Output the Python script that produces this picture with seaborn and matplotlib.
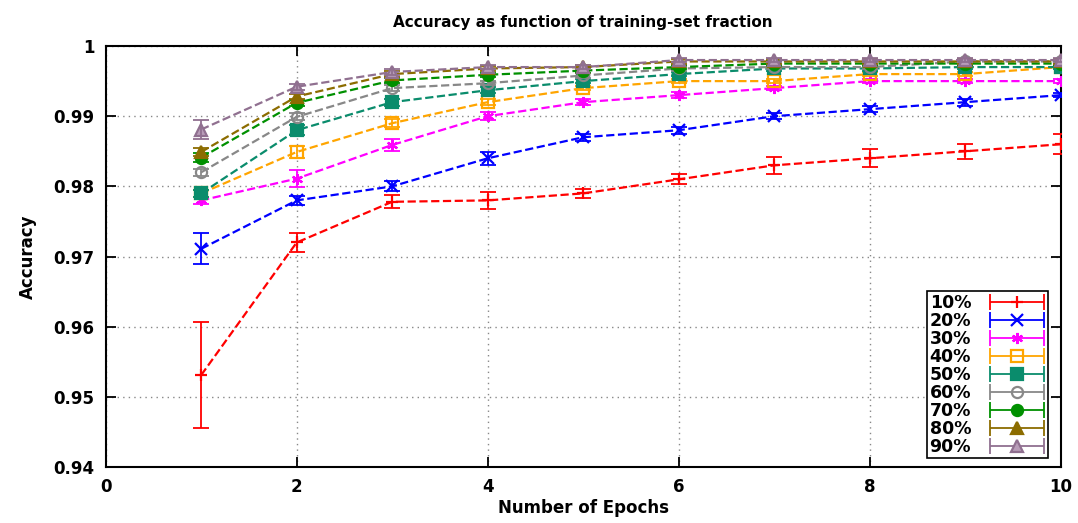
import numpy as np
import pandas as pd
import matplotlib
matplotlib.use("Agg")
import matplotlib.pyplot as plt
import seaborn as sns
from matplotlib.container import ErrorbarContainer
from matplotlib.legend_handler import HandlerErrorbar, HandlerTuple

# Data
epochs = [1, 2, 3, 4, 5, 6, 7, 8, 9, 10]
fractions = ["10%", "20%", "30%", "40%", "50%", "60%", "70%", "80%", "90%"]

acc_10 = [0.9531, 0.9720, 0.9778, 0.9780, 0.9790, 0.9810, 0.9830, 0.9840, 0.9850, 0.9860]
acc_20 = [0.9711, 0.9780, 0.9800, 0.9840, 0.9870, 0.9880, 0.9900, 0.9910, 0.9920, 0.9930]
acc_30 = [0.9780, 0.9811, 0.9859, 0.9900, 0.9920, 0.9930, 0.9940, 0.9950, 0.9950, 0.9950]
acc_40 = [0.9790, 0.9849, 0.9890, 0.9920, 0.9940, 0.9950, 0.9950, 0.9960, 0.9960, 0.9970]
acc_50 = [0.9790, 0.9880, 0.9920, 0.9937, 0.9950, 0.9960, 0.9968, 0.9968, 0.9970, 0.9970]
acc_60 = [0.9820, 0.9899, 0.9940, 0.9947, 0.9958, 0.9968, 0.9970, 0.9970, 0.9978, 0.9978]
acc_70 = [0.9841, 0.9919, 0.9951, 0.9959, 0.9965, 0.9970, 0.9975, 0.9975, 0.9975, 0.9975]
acc_80 = [0.9849, 0.9928, 0.9960, 0.9968, 0.9970, 0.9978, 0.9978, 0.9978, 0.9978, 0.9978]
acc_90 = [0.9881, 0.9942, 0.9963, 0.9970, 0.9970, 0.9980, 0.9980, 0.9980, 0.9980, 0.9980]

err_10 = [0.0075, 0.0013, 0.0009, 0.0012, 0.0006, 0.0007, 0.0012, 0.0013, 0.0011, 0.0014]
err_20 = [0.0022, 0.0006, 0.0007, 0.0009, 0.0005, 0.0005, 0.0004, 0.0004, 0.0005, 0.0003]
err_30 = [0.0005, 0.0012, 0.0008, 0.0006, 0.0004, 0.0004, 0.0003, 0.0003, 0.0003, 0.0003]
err_40 = [0.0005, 0.0008, 0.0006, 0.0004, 0.0003, 0.0003, 0.0003, 0.0003, 0.0003, 0.0003]
err_50 = [0.0005, 0.0007, 0.0005, 0.0004, 0.0003, 0.0003, 0.0003, 0.0003, 0.0003, 0.0003]
err_60 = [0.0005, 0.0005, 0.0004, 0.0003, 0.0003, 0.0003, 0.0003, 0.0003, 0.0003, 0.0003]
err_70 = [0.0006, 0.0004, 0.0003, 0.0003, 0.0003, 0.0003, 0.0003, 0.0003, 0.0003, 0.0003]
err_80 = [0.0006, 0.0004, 0.0004, 0.0003, 0.0003, 0.0003, 0.0003, 0.0003, 0.0003, 0.0003]
err_90 = [0.0013, 0.0004, 0.0004, 0.0003, 0.0003, 0.0003, 0.0003, 0.0003, 0.0003, 0.0003]

accs = [acc_10, acc_20, acc_30, acc_40, acc_50, acc_60, acc_70, acc_80, acc_90]
errs = [err_10, err_20, err_30, err_40, err_50, err_60, err_70, err_80, err_90]

# Styling per series: colour, marker, face colour
colors = ["#ff0000", "#0000ff", "#ff00ff", "#ffa500", "#0a8c6c",
          "#888888", "#009000", "#8c6c00", "#907090"]
markers = ["+", "x", (6, 2, 0), "s", "s", "o", "o", "^", "^"]
faces = ["#ff0000", "#0000ff", "#ff00ff", "none", "#0a8c6c",
         "none", "#009000", "#8c6c00", "#b89cb8"]

sns.set_theme(style="ticks")
plt.rcParams["font.family"] = ["DejaVu Sans"]
plt.rcParams["font.weight"] = "bold"
plt.rcParams["text.color"] = "black"
plt.rcParams["axes.labelcolor"] = "black"
plt.rcParams["xtick.color"] = "black"
plt.rcParams["ytick.color"] = "black"

fig = plt.figure(figsize=(10.78, 5.23), dpi=100)
ax = fig.add_axes([0.098, 0.107, 0.886, 0.805])

rows = []
for frac, a, e in zip(fractions, accs, errs):
    for x, y, s in zip(epochs, a, e):
        rows.append({"epoch": x, "acc": y, "err": s, "frac": frac})
df = pd.DataFrame(rows)

handles = []
for i, frac in enumerate(fractions):
    sub = df[df["frac"] == frac]
    sns.lineplot(data=sub, x="epoch", y="acc", ax=ax, color=colors[i],
                 marker=markers[i], markersize=8, markerfacecolor=faces[i],
                 markeredgecolor=colors[i], markeredgewidth=1.6,
                 linestyle="--", linewidth=1.6, dashes=(3, 2), legend=False,
                 errorbar=None, zorder=3 + i)
    ax.errorbar(sub["epoch"], sub["acc"], yerr=sub["err"], fmt="none",
                ecolor=colors[i], elinewidth=1.3, capsize=6, capthick=1.3,
                zorder=3 + i)
    # legend sample in gnuplot style: |---o---|
    h = ax.errorbar([np.nan], [np.nan], xerr=[1], fmt="none", ecolor=colors[i],
                    elinewidth=1.3, capsize=6, capthick=1.3, label=frac)
    m, = ax.plot([np.nan], [np.nan], linestyle="none", marker=markers[i],
                 markersize=8, markerfacecolor=faces[i],
                 markeredgecolor=colors[i], markeredgewidth=1.6)
    handles.append((h, m))

leg = ax.legend(handles, fractions, loc="lower right",
                bbox_to_anchor=(0.987, 0.021), borderaxespad=0,
                markerfirst=False, fontsize=12.5, labelspacing=0.0,
                handlelength=3.3, handletextpad=1.0, borderpad=0.15,
                fancybox=False, framealpha=1, edgecolor="black",
                handler_map={ErrorbarContainer: HandlerErrorbar(xerr_size=1.55),
                             tuple: HandlerTuple(ndivide=1)})
leg.get_frame().set_linewidth(1.2)
for t in leg.get_texts():
    t.set_fontweight("bold")
    t.set_color("black")

ax.set_xlim(0, 10)
ax.set_ylim(0.94, 1.0)
ax.set_xticks([0, 2, 4, 6, 8, 10])
ax.set_yticks([0.94, 0.95, 0.96, 0.97, 0.98, 0.99, 1.0])
ax.set_xticklabels(["0", "2", "4", "6", "8", "10"])
ax.set_yticklabels(["0.94", "0.95", "0.96", "0.97", "0.98", "0.99", "1"])
ax.tick_params(direction="in", length=7, width=1.3, top=True, right=True,
               labelsize=12, pad=8, colors="black")
for lab in ax.get_xticklabels() + ax.get_yticklabels():
    lab.set_fontweight("bold")
ax.grid(True, linestyle=(0, (1, 3)), color="#888888", linewidth=1.0)
for sp in ax.spines.values():
    sp.set_color("black")
    sp.set_linewidth(1.5)

ax.set_xlabel("Number of Epochs", fontsize=12, fontweight="bold", labelpad=2,
              color="black")
ax.set_ylabel("Accuracy", fontsize=12, fontweight="bold", labelpad=12,
              color="black")
ax.set_title("Accuracy as function of training-set fraction", fontsize=11,
             fontweight="bold", pad=14, color="black")

fig.savefig("out.png", dpi=100)
